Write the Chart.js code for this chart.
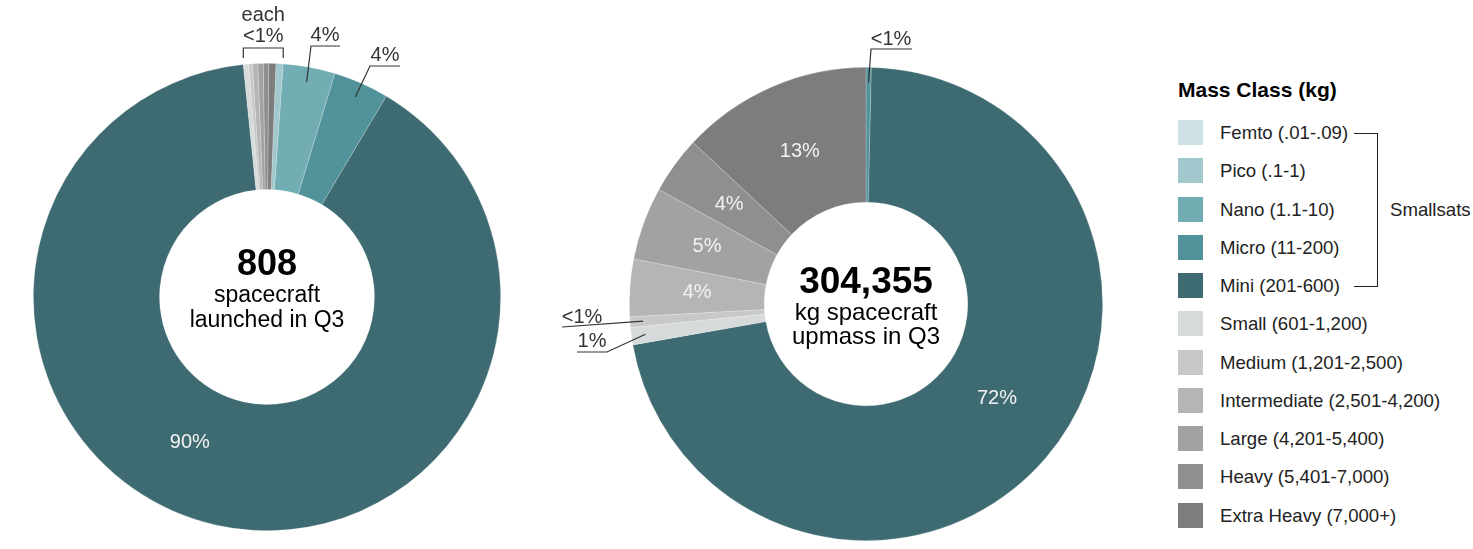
<!DOCTYPE html>
<html>
<head>
<meta charset="utf-8">
<script src="https://cdn.jsdelivr.net/npm/chart.js@4.4.1/dist/chart.umd.min.js"></script>
<style>
    body { margin: 0; background: #fff; font-family: "Liberation Sans", Arial, sans-serif; }
    #wrap { position: relative; width: 1473px; height: 549px; overflow: hidden; }
    canvas { position: absolute; top: 0; }
    .abs { position: absolute; }
    .legend-item { position: absolute; left: 1178px; height: 25px; }
    .legend-item .sw { position: absolute; left: 0; top: 0; width: 25px; height: 25px; }
    .legend-item .tx { position: absolute; left: 42px; top: 0; line-height: 25px; font-size: 18.6px; color: #222; white-space: nowrap; }
    .bline { position: absolute; background: #222; }
</style>
</head>
<body>
<div id="wrap">
    <canvas id="launches" width="540" height="549" style="left:0"></canvas>
    <canvas id="upmass" width="620" height="549" style="left:540px"></canvas>
    <div id="legend"></div>
</div>
<script>
const massClasses = [
    "Femto (.01-.09)", "Pico (.1-1)", "Nano (1.1-10)", "Micro (11-200)", "Mini (201-600)",
    "Small (601-1,200)", "Medium (1,201-2,500)", "Intermediate (2,501-4,200)",
    "Large (4,201-5,400)", "Heavy (5,401-7,000)", "Extra Heavy (7,000+)"
];
const classColors = [
    "#cde0e4", "#a0c8cd", "#72adb4", "#52929a", "#3e6b72",
    "#d6dadb", "#c7c8c7", "#b4b5b4", "#a2a2a2", "#8e8f8e", "#7d7d7d"
];
// number of spacecraft launched per class
const launchCounts = [0, 4, 29, 31, 726, 3, 2, 3, 3, 3, 4];
// upmass in kg per class
const upmassKg = [0, 0, 0, 1100, 218755, 3600, 2200, 11900, 15200, 11900, 39700];

const FONT = '"Liberation Sans", Arial, sans-serif';

const sum = (arr) => arr.reduce((a, b) => a + b, 0);

// notes are kept in a closure so chart.js does not run them through its option resolver
function notesPlugin(notes) {
    return {
        id: "notes",
        afterDatasetsDraw(chart) {
            const ctx = chart.ctx;
            const meta = chart.getDatasetMeta(0);
            const data = chart.data.datasets[0].data;
            const total = sum(data);
            const pct = (v) => {
                const p = (v / total) * 100;
                return p < 1 ? "<1%" : Math.round(p) + "%";
            };
            const first = meta.data[0];
            const cx = first.x, cy = first.y;
            const R = first.outerRadius, r = first.innerRadius;
            const mid = (arc) => (arc.startAngle + arc.endAngle) / 2;

            ctx.save();
            ctx.textAlign = "center";
            ctx.textBaseline = "middle";

            // labels inside slices
            ctx.fillStyle = "#f2f2f2";
            ctx.font = "20px " + FONT;
            (notes.inside || []).forEach((n) => {
                const a = mid(meta.data[n.i]) + ((n.shift || 0) * Math.PI) / 180;
                const d = (r + R) / 2 + (n.dr || 0);
                ctx.fillText(pct(data[n.i]), cx + d * Math.cos(a), cy + d * Math.sin(a));
            });

            // labels outside with leader lines
            ctx.strokeStyle = "#333";
            ctx.lineWidth = 1.2;
            (notes.outside || []).forEach((n) => {
                const a = mid(meta.data[n.i]);
                const d = R - (n.inset || 15);
                ctx.beginPath();
                ctx.moveTo(cx + d * Math.cos(a), cy + d * Math.sin(a));
                n.path.forEach((p) => ctx.lineTo(cx + p[0], cy + p[1]));
                ctx.stroke();
                ctx.fillStyle = "#333";
                ctx.fillText(pct(data[n.i]), cx + n.text[0], cy + n.text[1]);
            });

            // bracket over several thin slices
            if (notes.bracket) {
                const b = notes.bracket;
                const x1 = cx + R * Math.cos(meta.data[b.from].startAngle);
                const x2 = cx + R * Math.cos(meta.data[b.to].endAngle);
                const y = cy + b.y;
                ctx.beginPath();
                ctx.moveTo(x1, y + b.tick);
                ctx.lineTo(x1, y);
                ctx.lineTo(x2, y);
                ctx.lineTo(x2, y + b.tick);
                ctx.stroke();
                ctx.fillStyle = "#333";
                b.lines.forEach((t) => ctx.fillText(t.text, (x1 + x2) / 2, cy + t.dy));
            }

            // center text
            ctx.fillStyle = "#000";
            (notes.center || []).forEach((t) => {
                ctx.font = t.font;
                ctx.fillText(t.text, cx, cy + t.dy);
            });
            ctx.restore();
        },
    };
}

function makeDonut(id, values, cutout, rotation, padding, notes) {
    return new Chart(document.getElementById(id), {
        type: "doughnut",
        data: {
            labels: massClasses,
            datasets: [
                {
                    data: values,
                    backgroundColor: classColors,
                    borderColor: "rgba(255,255,255,0.3)",
                    borderWidth: 0.7,
                },
            ],
        },
        options: {
            responsive: false,
            animation: false,
            events: [],
            cutout: cutout,
            rotation: rotation,
            layout: { padding: padding },
            plugins: {
                legend: { display: false },
                tooltip: { enabled: false },
            },
        },
        plugins: [notesPlugin(notes)],
    });
}

makeDonut("launches", launchCounts, "46%", 2.2,
    { left: 33, top: 63, right: 39, bottom: 18 },
    {
        inside: [{ i: 4, shift: 15.5, dr: -6 }],
        outside: [
            { i: 2, path: [[44, -251], [73, -251]], text: [58, -262] },
            { i: 3, path: [[103, -231], [133, -231]], text: [118, -242] },
        ],
        bracket: {
            from: 5, to: 1, y: -249, tick: 10,
            lines: [{ text: "each", dy: -282 }, { text: "<1%", dy: -261 }],
        },
        center: [
            { text: sum(launchCounts).toLocaleString("en-US"), font: "bold 36px " + FONT, dy: -32 },
            { text: "spacecraft", font: "23px " + FONT, dy: -1 },
            { text: "launched in Q3", font: "23px " + FONT, dy: 24 },
        ],
    });

makeDonut("upmass", upmassKg, "43%", 0,
    { left: 89, top: 67, right: 57, bottom: 8 },
    {
        inside: [
            { i: 10, dr: -3 }, { i: 9 }, { i: 8 }, { i: 7 },
            { i: 4, shift: -5, dr: -8 },
        ],
        outside: [
            { i: 3, path: [[5, -255], [46, -255]], text: [25, -265] },
            { i: 6, inset: 13, path: [[-304, 23]], text: [-284, 13] },
            { i: 5, inset: 14, path: [[-259, 48], [-289, 48]], text: [-274, 37] },
        ],
        center: [
            { text: sum(upmassKg).toLocaleString("en-US"), font: "bold 37px " + FONT, dy: -21 },
            { text: "kg spacecraft", font: "24px " + FONT, dy: 9 },
            { text: "upmass in Q3", font: "24px " + FONT, dy: 33 },
        ],
    });

// legend
const legend = document.getElementById("legend");
const rowTop = (k) => 120 + k * 38.27;
let html = '<div class="abs" style="left:1178px;top:78px;font-size:21px;font-weight:bold;color:#000;white-space:nowrap">Mass Class (kg)</div>';
massClasses.forEach((name, k) => {
    html += '<div class="legend-item" style="top:' + rowTop(k) + 'px">' +
        '<div class="sw" style="background:' + classColors[k] + '"></div>' +
        '<div class="tx">' + name + "</div></div>";
});
// smallsats bracket: Femto .. Mini
const yTop = rowTop(0) + 12.5, yBot = rowTop(4) + 12.5;
html += '<div class="bline" style="left:1354px;top:' + yTop + 'px;width:24px;height:1.2px"></div>';
html += '<div class="bline" style="left:1377px;top:' + yTop + 'px;width:1.2px;height:' + (yBot - yTop + 1) + 'px"></div>';
html += '<div class="bline" style="left:1354px;top:' + yBot + 'px;width:24px;height:1.2px"></div>';
html += '<div class="abs" style="left:1390px;top:' + ((yTop + yBot) / 2 - 12) + 'px;line-height:25px;font-size:18.6px;color:#222">Smallsats</div>';
legend.innerHTML = html;
</script>
</body>
</html>
